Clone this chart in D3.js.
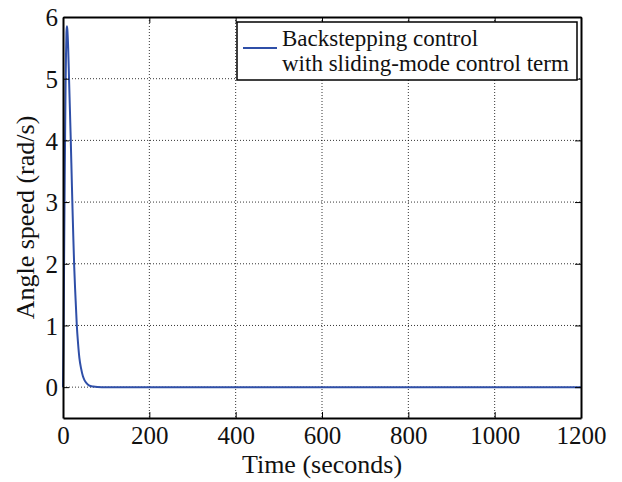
<!DOCTYPE html>
<html><head><meta charset="utf-8">
<script src="https://cdn.jsdelivr.net/npm/d3@7"></script>
<style>body{margin:0;background:#fff}svg{display:block}svg text{font-family:"Liberation Serif","Times New Roman",Times,serif}</style>
</head><body><svg id="c" width="622" height="482"></svg>
<script>
const timeValues = [0,1,2,3,4,5,6,7,8,9,10,12,14,16,18,20,22,24,26,28,30,32,35,38,42,46,50,55,60,70,80,100,200,400,600,800,1000,1200];
const speedValues = [0,0.6,1.5,2.5,3.4,4.2,4.9,5.4,5.75,5.85,5.8,5.5,5.0,4.5,4.0,3.45,2.9,2.4,1.95,1.6,1.3,1.0,0.7,0.47,0.3,0.18,0.11,0.06,0.03,0.01,0.003,0,0,0,0,0,0,0];
const xTicks = [0,200,400,600,800,1000,1200];
const yTicks = [0,1,2,3,4,5,6];
const seriesName = ["Backstepping control","with sliding-mode control term"];

const svg = d3.select("#c");
const L=63, R=581, T=17, B=418;
const x = d3.scaleLinear().domain([0,1200]).range([L,R]);
const y = d3.scaleLinear().domain([-0.5,6]).range([B,T]);
const font = '"Liberation Serif","Times New Roman",Times,serif';

// grid
const g = svg.append("g");
g.selectAll(".gx").data(xTicks.filter(d=>d>0&&d<1200)).enter().append("line")
 .attr("x1",d=>x(d)).attr("x2",d=>x(d)).attr("y1",T).attr("y2",B)
 .attr("stroke","#000").attr("stroke-width",0.8).attr("stroke-dasharray","1,2");
g.selectAll(".gy").data(yTicks.filter(d=>d<6)).enter().append("line")
 .attr("x1",L).attr("x2",R).attr("y1",d=>y(d)).attr("y2",d=>y(d))
 .attr("stroke","#000").attr("stroke-width",0.8).attr("stroke-dasharray","1,2");

// line
const data = timeValues.map((t,i)=>[t,speedValues[i]]);
svg.append("path").datum(data)
 .attr("d", d3.line().x(d=>x(d[0])).y(d=>y(d[1])).curve(d3.curveMonotoneX))
 .attr("fill","none").attr("stroke","#2f4fa8").attr("stroke-width",2);

// axes
const fmt = d3.format("d");
const ax = svg.append("g").attr("transform",`translate(0,${B})`)
 .call(d3.axisBottom(x).tickValues(xTicks).tickFormat(fmt).tickSizeInner(-6).tickSizeOuter(0).tickPadding(8));
const axTop = svg.append("g").attr("transform",`translate(0,${T})`)
 .call(d3.axisTop(x).tickValues(xTicks).tickSizeInner(-6).tickSizeOuter(0).tickFormat(""));
const ay = svg.append("g").attr("transform",`translate(${L},0)`)
 .call(d3.axisLeft(y).tickValues(yTicks).tickFormat(fmt).tickSizeInner(-6).tickSizeOuter(0).tickPadding(5));
const ayR = svg.append("g").attr("transform",`translate(${R},0)`)
 .call(d3.axisRight(y).tickValues(yTicks).tickSizeInner(-6).tickSizeOuter(0).tickFormat(""));
[ax,axTop,ay,ayR].forEach(a=>{
  a.attr("font-family",null).attr("font-size",null);
  a.selectAll("path").attr("stroke","#000").attr("stroke-width",2);
  a.selectAll("line").attr("stroke","#000").attr("stroke-width",1);
  a.selectAll("text").style("font-family",font).style("font-size","25px").attr("fill","#111");
});
ay.selectAll("text").attr("dy","0.35em");

// titles
svg.append("text").attr("x",(L+R)/2).attr("y",473).attr("text-anchor","middle")
 .style("font-family",font).style("font-size","26px").attr("fill","#111").text("Time (seconds)");
svg.append("text").attr("transform",`translate(34,${(T+B)/2}) rotate(-90)`).attr("text-anchor","middle")
 .style("font-family",font).style("font-size","26px").attr("fill","#111").text("Angle speed (rad/s)");

// legend
const lg = svg.append("g");
lg.append("rect").attr("x",237).attr("y",22).attr("width",340).attr("height",58)
 .attr("fill","#fff").attr("stroke","#000").attr("stroke-width",1.5);
lg.append("line").attr("x1",243).attr("x2",277).attr("y1",48).attr("y2",48)
 .attr("stroke","#2f4fa8").attr("stroke-width",2);
lg.selectAll(".lt").data(seriesName).enter().append("text")
 .attr("x",282).attr("y",(d,i)=>46+i*25).style("font-family",font).style("font-size","23px").attr("fill","#111").text(d=>d);
</script></body></html>
